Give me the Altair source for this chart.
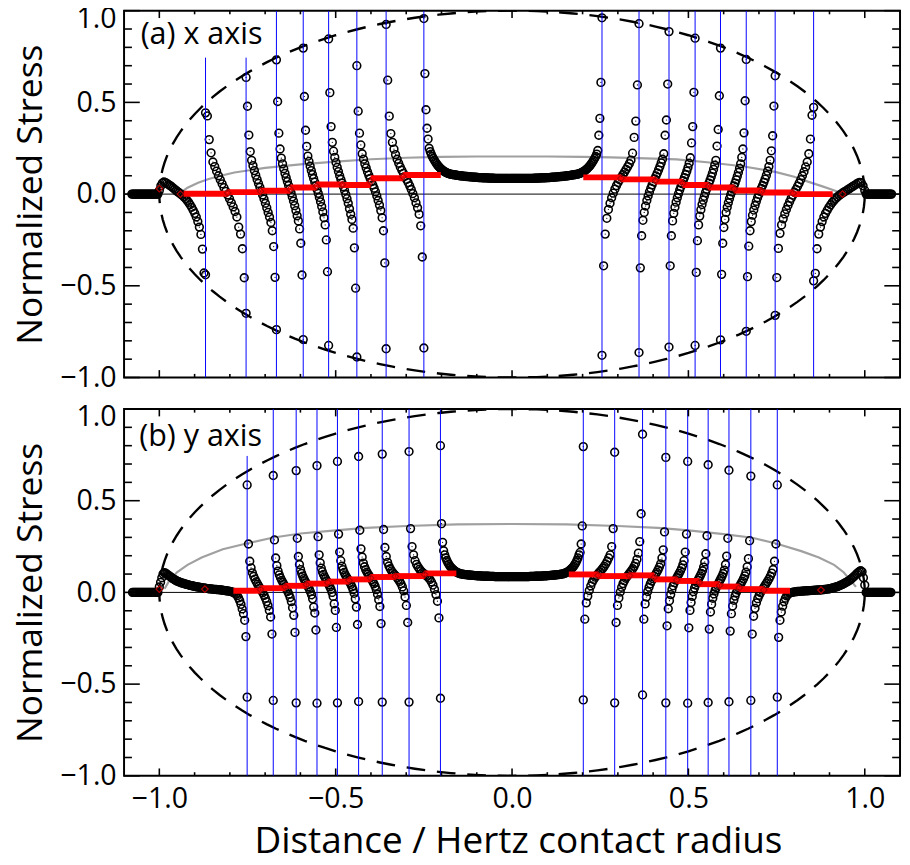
import altair as alt
import numpy as np
import pandas as pd

FONT = "Open Sans"

# ---------------- axes ----------------
X_DOMAIN = [-1.1, 1.1]
Y_DOMAIN = [-1.0, 1.0]
X_MAJOR = [-1.0, -0.5, 0.0, 0.5, 1.0]
X_MINOR = [-0.9, -0.8, -0.7, -0.6, -0.4, -0.3, -0.2, -0.1, 0.1, 0.2, 0.3, 0.4, 0.6, 0.7, 0.8, 0.9]
Y_MAJOR = [-1.0, -0.5, 0.0, 0.5, 1.0]
Y_MINOR = [-0.9, -0.8, -0.7, -0.6, -0.4, -0.3, -0.2, -0.1, 0.1, 0.2, 0.3, 0.4, 0.6, 0.7, 0.8, 0.9]
X_TITLE = "Distance / Hertz contact radius"
Y_TITLE = "Normalized Stress"

# ---------------- panel (a): x axis ----------------
A_LABEL = "(a) x axis"
A_LABEL_X = [-1.053]
A_LABEL_Y = [0.82]
A_CRACK_X = [-0.869, -0.754, -0.668, -0.592, -0.520, -0.440, -0.357, -0.250,
             0.255, 0.360, 0.445, 0.519, 0.591, 0.664, 0.746, 0.855]
A_CRACK_TOP = [0.744, 0.744, 1, 1, 1, 1, 1, 1, 1, 1, 1, 1, 1, 1, 1, 1]
A_FLAT_L_X = [-1.078, -1.004]
A_FLAT_R_X = [1.004, 1.076]
A_FLAT_Y = [0.0] * 26
A_SEG_00 = [0.02, 0.045, 0.06, 0.066, 0.063, 0.058, 0.052, 0.046, 0.04, 0.033, 0.026, 0.019, 0.012, 0.006, 0.0,
            -0.007, -0.015, -0.024, -0.034, -0.045, -0.058, -0.072, -0.088, -0.105, -0.125, -0.15, -0.18, -0.22,
            -0.30, -0.43, -0.44]
A_SEG_01 = [0.443, 0.426, 0.297, 0.225, 0.175, 0.15, 0.125, 0.10, 0.078, 0.056, 0.035, 0.015, -0.005, -0.025,
            -0.047, -0.07, -0.095, -0.125, -0.18, -0.218, -0.298, -0.456, -0.65]
A_SEG_02 = [0.636, 0.479, 0.322, 0.232, 0.184, 0.155, 0.128, 0.103, 0.08, 0.058, 0.037, 0.016, -0.005, -0.027,
            -0.05, -0.075, -0.1, -0.125, -0.155, -0.2, -0.286, -0.454, -0.739]
A_SEG_03 = [0.732, 0.505, 0.332, 0.246, 0.196, 0.165, 0.138, 0.113, 0.09, 0.068, 0.047, 0.027, 0.007, -0.015,
            -0.038, -0.063, -0.09, -0.118, -0.146, -0.19, -0.268, -0.441, -0.793]
A_SEG_04 = [0.796, 0.532, 0.348, 0.26, 0.207, 0.178, 0.152, 0.128, 0.106, 0.085, 0.065, 0.045, 0.025, 0.004,
            -0.018, -0.042, -0.068, -0.097, -0.129, -0.168, -0.25, -0.423, -0.825]
A_SEG_05 = [0.846, 0.553, 0.368, 0.282, 0.234, 0.2, 0.172, 0.146, 0.123, 0.1, 0.08, 0.06, 0.04, 0.02, -0.002,
            -0.025, -0.05, -0.08, -0.11, -0.138, -0.186, -0.293, -0.513, -0.888]
A_SEG_06 = [0.70, 0.452, 0.332, 0.268, 0.22, 0.19, 0.165, 0.143, 0.122, 0.103, 0.085, 0.068, 0.05, 0.032, 0.012,
            -0.01, -0.035, -0.06, -0.09, -0.129, -0.2, -0.375, -0.843]
A_SEG_07 = [0.925, 0.621, 0.425, 0.33, 0.282, 0.245, 0.215, 0.19, 0.168, 0.148, 0.13, 0.113, 0.097, 0.08, 0.063,
            0.045, 0.025, 0.003, -0.02, -0.048, -0.075, -0.11, -0.173, -0.343, -0.839]
A_MID_SLOPE = [0.108, 0.107, 0.106, 0.105, 0.104, 0.103, 0.102, 0.101, 0.1, 0.1, 0.099, 0.098, 0.098, 0.097,
               0.096, 0.096, 0.095, 0.095, 0.094, 0.094, 0.093, 0.093, 0.092, 0.092, 0.091, 0.091, 0.09, 0.09,
               0.09, 0.089, 0.089, 0.089, 0.088, 0.088, 0.088, 0.088, 0.087, 0.087, 0.087, 0.087, 0.087, 0.086,
               0.086, 0.086, 0.086]
A_SEG_08 = ([0.957, 0.657, 0.46, 0.359, 0.3, 0.25,
             0.232, 0.218, 0.205, 0.194, 0.184, 0.175, 0.166, 0.158, 0.151, 0.145, 0.139, 0.134, 0.129, 0.125,
             0.121, 0.118, 0.115, 0.113, 0.111, 0.109]
            + A_MID_SLOPE + [0.086] * 30 + A_MID_SLOPE[::-1]
            + [0.109, 0.111, 0.113, 0.115, 0.118, 0.121, 0.125, 0.129, 0.134, 0.139, 0.145, 0.151, 0.158, 0.166,
               0.175, 0.184, 0.194, 0.205, 0.218, 0.2375, 0.321, 0.413, 0.609, 0.961])
A_SEG_09 = [-0.879, -0.391, -0.218, -0.132, -0.084, -0.05, -0.02, 0.005, 0.027, 0.046, 0.063, 0.078, 0.092,
            0.106, 0.12, 0.135, 0.15, 0.166, 0.185, 0.223, 0.309, 0.398, 0.595, 0.929]
A_SEG_10 = [-0.864, -0.402, -0.227, -0.143, -0.1, -0.065, -0.035, -0.01, 0.012, 0.032, 0.05, 0.067, 0.083, 0.099,
            0.115, 0.132, 0.15, 0.17, 0.19, 0.22, 0.321, 0.404, 0.6, 0.886]
A_SEG_11 = [-0.834, -0.391, -0.227, -0.146, -0.105, -0.072, -0.044, -0.02, 0.002, 0.022, 0.04, 0.057, 0.073,
            0.09, 0.107, 0.125, 0.145, 0.168, 0.198, 0.279, 0.368, 0.555, 0.85]
A_SEG_12 = [-0.825, -0.427, -0.254, -0.168, -0.12, -0.085, -0.057, -0.033, -0.012, 0.008, 0.026, 0.043, 0.06,
            0.077, 0.095, 0.114, 0.135, 0.158, 0.184, 0.262, 0.352, 0.536, 0.796]
A_SEG_13 = [-0.795, -0.4375, -0.268, -0.182, -0.1375, -0.1, -0.072, -0.047, -0.025, -0.005, 0.012, 0.028, 0.044,
            0.06, 0.078, 0.097, 0.118, 0.14, 0.165, 0.2, 0.246, 0.334, 0.509, 0.734]
A_SEG_14 = [-0.748, -0.45, -0.284, -0.2, -0.15, -0.115, -0.087, -0.062, -0.04, -0.02, -0.002, 0.015, 0.031,
            0.047, 0.064, 0.082, 0.102, 0.125, 0.15, 0.184, 0.236, 0.318, 0.48, 0.645]
A_SEG_15 = [-0.661, -0.455, -0.296, -0.214, -0.168, -0.135, -0.108, -0.084, -0.062, -0.042, -0.023, -0.006, 0.01,
            0.026, 0.043, 0.06, 0.079, 0.1, 0.122, 0.148, 0.175, 0.22, 0.3, 0.43, 0.473]
A_SEG_16 = [-0.473, -0.432, -0.298, -0.218, -0.18, -0.15, -0.125, -0.105, -0.088, -0.072, -0.058, -0.045, -0.034,
            -0.024, -0.015, -0.007, 0.0, 0.006, 0.012, 0.018, 0.024, 0.03, 0.036, 0.042, 0.048, 0.054, 0.06, 0.064,
            0.062, 0.045, 0.02]
A_RED_X0 = [-0.931, -0.806, -0.713, -0.629, -0.555, -0.481, -0.401, -0.309,
            0.202, 0.309, 0.407, 0.484, 0.557, 0.63, 0.707, 0.797]
A_RED_X1 = [-0.806, -0.713, -0.629, -0.555, -0.481, -0.401, -0.309, -0.202,
            0.309, 0.407, 0.484, 0.557, 0.63, 0.707, 0.797, 0.909]
A_RED_Y = [0.002, 0.011, 0.018, 0.036, 0.052, 0.05, 0.086, 0.104,
           0.091, 0.08, 0.068, 0.05, 0.036, 0.02, 0.009, 0.0]
A_DIAM_X = [-1.0, -0.94, -0.806, -0.713, -0.629, -0.555, -0.481, -0.401, -0.309,
            0.309, 0.407, 0.484, 0.557, 0.63, 0.707, 0.797, 0.937]
A_DIAM_Y = [0.03, 0.0, 0.006, 0.015, 0.027, 0.044, 0.051, 0.068, 0.095,
            0.086, 0.074, 0.059, 0.043, 0.028, 0.015, 0.005, 0.0]
A_GRAY_X = [-0.945, -0.92, -0.89, -0.86, -0.82, -0.787, -0.7, -0.6, -0.5, -0.4, -0.3, -0.2, -0.1, 0.0, 0.1, 0.2,
            0.28, 0.38, 0.467, 0.56, 0.653, 0.746, 0.8, 0.839, 0.88, 0.91, 0.935]
A_GRAY_Y = [0.0, 0.035, 0.062, 0.082, 0.103, 0.118, 0.143, 0.162, 0.177, 0.19, 0.198, 0.203, 0.205, 0.205, 0.205,
            0.203, 0.2, 0.195, 0.189, 0.172, 0.152, 0.121, 0.095, 0.068, 0.042, 0.022, 0.005]

# ---------------- panel (b): y axis ----------------
B_LABEL = "(b) y axis"
B_LABEL_X = [-1.057]
B_LABEL_Y = [0.80]
B_CRACK_X = [-0.751, -0.677, -0.612, -0.553, -0.495, -0.435, -0.368, -0.292, -0.203,
             0.202, 0.291, 0.370, 0.436, 0.498, 0.556, 0.615, 0.677, 0.752]
B_CRACK_TOP = [0.744, 1, 1, 1, 1, 1, 1, 1, 1, 1, 1, 1, 1, 1, 1, 1, 1, 1]
B_FLAT_L_X = [-1.076, -1.004]
B_FLAT_R_X = [1.004, 1.074]
B_FLAT_Y = [0.0] * 26
B_SEG_00 = [0.03, 0.055, 0.08, 0.1, 0.108, 0.105, 0.1, 0.095, 0.09, 0.085,
            0.08, 0.075, 0.071, 0.067, 0.063, 0.06, 0.057, 0.054, 0.052, 0.05,
            0.048, 0.046, 0.044, 0.042, 0.04, 0.038, 0.037, 0.035, 0.034, 0.032,
            0.031, 0.03, 0.028, 0.027, 0.026, 0.025, 0.024, 0.023, 0.022, 0.021,
            0.02, 0.019, 0.019, 0.018, 0.017, 0.017, 0.016, 0.015, 0.015, 0.014,
            0.013, 0.012, 0.011, 0.01, 0.009, 0.008, 0.007, 0.006, 0.004, 0.002,
            0.0, -0.004, -0.01, -0.018, -0.03, -0.045, -0.065, -0.09, -0.116, -0.152, -0.241, -0.571]
B_SEG_01 = [0.586, 0.264, 0.17, 0.134, 0.107, 0.088, 0.072, 0.058, 0.045, 0.033, 0.021, 0.01, -0.002, -0.016,
            -0.032, -0.05, -0.072, -0.098, -0.134, -0.227, -0.589]
B_SEG_02 = [0.6375, 0.286, 0.1875, 0.146, 0.116, 0.096, 0.08, 0.066, 0.054, 0.042, 0.03, 0.018, 0.005, -0.01,
            -0.028, -0.05, -0.084, -0.125, -0.218, -0.602]
B_SEG_03 = [0.664, 0.295, 0.196, 0.152, 0.124, 0.104, 0.088, 0.075, 0.063, 0.052, 0.041, 0.03, 0.018, 0.004,
            -0.013, -0.035, -0.08, -0.1125, -0.205, -0.604]
B_SEG_04 = [0.691, 0.304, 0.205, 0.161, 0.132, 0.113, 0.098, 0.085, 0.074, 0.063, 0.053, 0.042, 0.03, 0.017, 0.0,
            -0.022, -0.0625, -0.098, -0.191, -0.602]
B_SEG_05 = [0.714, 0.318, 0.22, 0.173, 0.143, 0.124, 0.109, 0.096, 0.085, 0.075, 0.065, 0.055, 0.044, 0.031,
            0.015, -0.005, -0.035, -0.08, -0.175, -0.595]
B_SEG_06 = [0.741, 0.339, 0.2375, 0.193, 0.16, 0.14, 0.124, 0.111, 0.1, 0.09, 0.08, 0.07, 0.059, 0.047, 0.033,
            0.015, -0.01, -0.04, -0.077, -0.17, -0.598]
B_SEG_07 = [0.754, 0.343, 0.245, 0.196, 0.164, 0.144, 0.129, 0.117, 0.107, 0.098, 0.09, 0.081, 0.071, 0.06, 0.047,
            0.03, 0.008, -0.025, -0.071, -0.164, -0.598]
B_SEG_08 = [0.768, 0.348, 0.25, 0.205, 0.173, 0.153, 0.139, 0.127, 0.117, 0.109, 0.102, 0.095, 0.088, 0.08, 0.07,
            0.057, 0.04, 0.017, -0.012, -0.048, -0.139, -0.577]
B_MID_SLOPE = [0.1, 0.099, 0.098, 0.097, 0.097, 0.096, 0.095, 0.095, 0.094, 0.094, 0.093, 0.093, 0.092, 0.092,
               0.091, 0.091, 0.09, 0.09, 0.09, 0.089, 0.089, 0.089, 0.088, 0.088, 0.088, 0.088, 0.087, 0.087,
               0.087, 0.087, 0.087, 0.086, 0.086, 0.086, 0.086]
B_SEG_09 = ([0.8, 0.375, 0.273, 0.227,
             0.205, 0.188, 0.174, 0.162, 0.152, 0.143, 0.136, 0.13, 0.124, 0.119, 0.115, 0.111, 0.108, 0.105,
             0.103, 0.101]
            + B_MID_SLOPE + [0.086] * 25 + B_MID_SLOPE[::-1]
            + [0.101, 0.103, 0.105, 0.108, 0.111, 0.115, 0.119, 0.124, 0.13, 0.136, 0.143, 0.152, 0.162, 0.174,
               0.188, 0.205, 0.218, 0.264, 0.3625, 0.795])
B_SEG_10 = [-0.586, -0.146, -0.057, -0.02, 0.01, 0.035, 0.055, 0.07, 0.083, 0.093, 0.103, 0.112, 0.121, 0.131,
            0.142, 0.155, 0.17, 0.188, 0.205, 0.25, 0.348, 0.764]
B_SEG_11 = [-0.602, -0.164, -0.071, -0.03, 0.002, 0.028, 0.048, 0.064, 0.077, 0.088, 0.098, 0.108, 0.118, 0.129,
            0.142, 0.158, 0.18, 0.214, 0.277, 0.429, 0.8625]
B_SEG_12 = [-0.559, -0.146, -0.0625, -0.025, 0.005, 0.028, 0.047, 0.062, 0.075, 0.087, 0.098, 0.11, 0.123, 0.138,
            0.156, 0.1875, 0.232, 0.33, 0.736]
B_SEG_13 = [-0.602, -0.182, -0.089, -0.045, -0.012, 0.015, 0.036, 0.053, 0.067, 0.08, 0.092, 0.104, 0.117, 0.132,
            0.15, 0.173, 0.22, 0.318, 0.714]
B_SEG_14 = [-0.604, -0.193, -0.098, -0.055, -0.022, 0.004, 0.024, 0.04, 0.054, 0.066, 0.078, 0.09, 0.103, 0.118,
            0.138, 0.166, 0.211, 0.309, 0.696]
B_SEG_15 = [-0.6, -0.2, -0.107, -0.064, -0.032, -0.008, 0.011, 0.026, 0.039, 0.051, 0.063, 0.075, 0.088, 0.103,
            0.122, 0.152, 0.198, 0.295, 0.666]
B_SEG_16 = [-0.596, -0.211, -0.116, -0.074, -0.043, -0.02, -0.002, 0.013, 0.026, 0.038, 0.05, 0.062, 0.075, 0.09,
            0.11, 0.139, 0.184, 0.282, 0.634]
B_SEG_17 = [-0.589, -0.227, -0.13, -0.087, -0.057, -0.034, -0.016, -0.001, 0.012, 0.024, 0.036, 0.048, 0.06,
            0.073, 0.088, 0.105, 0.125, 0.17, 0.264, 0.586]
B_SEG_18 = [-0.571, -0.245, -0.152, -0.107, -0.075, -0.05, -0.032, -0.019, -0.01, -0.004,
            -0.001, 0.0, 0.002, 0.003, 0.004, 0.005, 0.006, 0.006, 0.007, 0.007,
            0.008, 0.008, 0.009, 0.009, 0.01, 0.01, 0.011, 0.011, 0.012, 0.012,
            0.013, 0.013, 0.013, 0.014, 0.015, 0.016, 0.017, 0.018, 0.019, 0.02,
            0.022, 0.024, 0.026, 0.028, 0.03, 0.033, 0.036, 0.039, 0.042, 0.046,
            0.05, 0.054, 0.058, 0.063, 0.068, 0.074, 0.08, 0.087, 0.094, 0.101,
            0.108, 0.114, 0.118, 0.112, 0.08, 0.04]
B_RED_X0 = [-0.79, -0.713, -0.643, -0.583, -0.522, -0.462, -0.401, -0.331, -0.248,
            0.161, 0.244, 0.333, 0.403, 0.467, 0.531, 0.588, 0.644, 0.714]
B_RED_X1 = [-0.713, -0.643, -0.583, -0.522, -0.462, -0.401, -0.331, -0.248, -0.158,
            0.244, 0.333, 0.403, 0.467, 0.531, 0.588, 0.644, 0.714, 0.788]
B_RED_Y = [0.009, 0.023, 0.036, 0.048, 0.059, 0.071, 0.084, 0.089, 0.104,
           0.098, 0.089, 0.093, 0.071, 0.0625, 0.045, 0.032, 0.018, 0.009]
B_DIAM_X = [-1.0, -0.871, -0.713, -0.643, -0.583, -0.522, -0.462, -0.401, -0.331, -0.248,
            0.244, 0.333, 0.403, 0.467, 0.531, 0.588, 0.644, 0.714, 0.876]
B_DIAM_Y = [0.018, 0.018, 0.016, 0.03, 0.042, 0.053, 0.065, 0.078, 0.087, 0.097,
            0.093, 0.091, 0.082, 0.067, 0.054, 0.038, 0.025, 0.013, 0.013]
B_GRAY_X = [-0.985, -0.973, -0.95, -0.92, -0.88, -0.82, -0.75, -0.68, -0.6, -0.5, -0.414, -0.3, -0.155, 0.0,
            0.155, 0.3, 0.414, 0.5, 0.6, 0.681, 0.746, 0.82, 0.87, 0.913, 0.94, 0.96, 0.975]
B_GRAY_Y = [0.02, 0.06, 0.11, 0.15, 0.19, 0.235, 0.268, 0.298, 0.321, 0.338, 0.352, 0.362, 0.371, 0.373, 0.371,
            0.362, 0.352, 0.338, 0.318, 0.298, 0.268, 0.225, 0.19, 0.15, 0.11, 0.065, 0.03]

A_SEGS = [A_SEG_00, A_SEG_01, A_SEG_02, A_SEG_03, A_SEG_04, A_SEG_05, A_SEG_06, A_SEG_07, A_SEG_08,
          A_SEG_09, A_SEG_10, A_SEG_11, A_SEG_12, A_SEG_13, A_SEG_14, A_SEG_15, A_SEG_16]
B_SEGS = [B_SEG_00, B_SEG_01, B_SEG_02, B_SEG_03, B_SEG_04, B_SEG_05, B_SEG_06, B_SEG_07, B_SEG_08, B_SEG_09,
          B_SEG_10, B_SEG_11, B_SEG_12, B_SEG_13, B_SEG_14, B_SEG_15, B_SEG_16, B_SEG_17, B_SEG_18]

W = 789
H = 373
XS = alt.Scale(domain=X_DOMAIN, nice=False, zero=False)
YS = alt.Scale(domain=Y_DOMAIN, nice=False, zero=False)


def xenc(field, show):
    if show:
        axis = alt.Axis(values=X_MAJOR, format=".1f", labelFont=FONT, labelFontSize=29, labelColor="black",
                        labelPadding=9, ticks=False, domain=False, grid=False, title=X_TITLE,
                        titleFont=FONT, titleFontSize=37.5, titleFontWeight="normal", titleColor="black",
                        titlePadding=10, titleX=W / 2 + 6, titleAlign="center")
    else:
        axis = None
    return alt.X(field, type="quantitative", scale=XS, axis=axis)


def yenc(field):
    axis = alt.Axis(values=Y_MAJOR, format=".1f", labelFont=FONT, labelFontSize=29, labelColor="black",
                    labelPadding=8, ticks=False, domain=False, grid=False, title=Y_TITLE,
                    titleFont=FONT, titleFontSize=36, titleFontWeight="normal", titleColor="black",
                    titlePadding=11, labelBaseline="middle",
                    labelOffset={"condition": {"test": "datum.value >= 0.99", "value": 8}, "value": 0})
    return alt.Y(field, type="quantitative", scale=YS, axis=axis)


def points_frame(nodes, segs, flat_l, flat_r, flat_y):
    xs, ys = [], []
    for a, b, seg in zip(nodes[:-1], nodes[1:], segs):
        xs.extend(np.linspace(a, b, len(seg)).tolist())
        ys.extend(seg)
    for lo, hi in (flat_l, flat_r):
        xs.extend(np.linspace(lo, hi, len(flat_y)).tolist())
        ys.extend(flat_y)
    return pd.DataFrame({"x": xs, "y": ys})


def panel(label, lx, ly, crack_x, crack_top, segs, flat_l, flat_r, flat_y,
          red_x0, red_x1, red_y, diam_x, diam_y, gray_x, gray_y, show_x):
    X = lambda f: xenc(f, show_x)
    nodes = [-1.0] + crack_x + [1.0]
    pts = points_frame(nodes, segs, flat_l, flat_r, flat_y)

    ellipse = alt.Chart(alt.sequence(0, 362, 2, as_="deg")).transform_calculate(
        x="cos(datum.deg * PI / 180)", y="sin(datum.deg * PI / 180)"
    ).mark_line(color="black", strokeWidth=2.4, strokeDash=[19, 12], clip=True).encode(
        x=X("x"), y=yenc("y"), order="deg:Q")

    gray = alt.Chart(pd.DataFrame({"x": gray_x, "y": gray_y})).mark_line(
        color="#a0a0a0", strokeWidth=2.2, clip=True).encode(x=X("x"), y=yenc("y"))

    zero = alt.Chart(pd.DataFrame({"y": [0.0]})).mark_rule(color="black", strokeWidth=1).encode(y=yenc("y"))

    circles = alt.Chart(pts).mark_point(shape="circle", filled=False, color="black", size=62,
                                        strokeWidth=1.6, opacity=1, clip=True).encode(x=X("x"), y=yenc("y"))
    dots = alt.Chart(pts).mark_point(shape="circle", filled=True, color="black", size=1.5,
                                     opacity=1, clip=True).encode(x=X("x"), y=yenc("y"))

    cdf = pd.DataFrame({"x": crack_x, "y": [-1.0] * len(crack_x), "y2": crack_top})
    cracks = alt.Chart(cdf).mark_rule(strokeWidth=1, color="#0000ff", clip=True).encode(
        x=X("x"), y=yenc("y"), y2="y2:Q")

    red = alt.Chart(pd.DataFrame({"x": red_x0, "x2": red_x1, "y": red_y})).mark_rule(
        color="#ff0000", strokeWidth=6, clip=True).encode(x=X("x"), x2="x2:Q", y=yenc("y"))

    diam = alt.Chart(pd.DataFrame({"x": diam_x, "y": diam_y})).mark_point(
        shape="diamond", filled=False, color="#b40000", size=45, strokeWidth=1.2, opacity=1,
        clip=True).encode(x=X("x"), y=yenc("y"))

    txt = alt.Chart(pd.DataFrame({"x": lx, "y": ly, "t": [label]})).mark_text(
        align="left", baseline="alphabetic", font=FONT, fontSize=31, color="black").encode(
        x=X("x"), y=yenc("y"), text="t:N")

    ymaj = pd.DataFrame({"y": Y_MAJOR})
    ymin = pd.DataFrame({"y": Y_MINOR})
    xmaj = pd.DataFrame({"x": X_MAJOR})
    xmin = pd.DataFrame({"x": X_MINOR})
    tk = dict(color="black", strokeWidth=1.6)
    ticks = [
        alt.Chart(ymaj).mark_rule(**tk).encode(y=yenc("y"), x=alt.value(0), x2=alt.value(16)),
        alt.Chart(ymaj).mark_rule(**tk).encode(y=yenc("y"), x=alt.value(W), x2=alt.value(W - 16)),
        alt.Chart(ymin).mark_rule(**tk).encode(y=yenc("y"), x=alt.value(0), x2=alt.value(8)),
        alt.Chart(ymin).mark_rule(**tk).encode(y=yenc("y"), x=alt.value(W), x2=alt.value(W - 8)),
        alt.Chart(xmaj).mark_rule(**tk).encode(x=X("x"), y=alt.value(H), y2=alt.value(H - 7.5)),
        alt.Chart(xmaj).mark_rule(**tk).encode(x=X("x"), y=alt.value(0), y2=alt.value(7.5)),
        alt.Chart(xmin).mark_rule(**tk).encode(x=X("x"), y=alt.value(H), y2=alt.value(H - 3.7)),
        alt.Chart(xmin).mark_rule(**tk).encode(x=X("x"), y=alt.value(0), y2=alt.value(3.7)),
    ]
    return alt.layer(ellipse, gray, zero, circles, dots, cracks, red, diam, txt, *ticks).properties(
        width=W, height=H)


top = panel(A_LABEL, A_LABEL_X, A_LABEL_Y, A_CRACK_X, A_CRACK_TOP, A_SEGS,
            A_FLAT_L_X, A_FLAT_R_X, A_FLAT_Y, A_RED_X0, A_RED_X1, A_RED_Y, A_DIAM_X, A_DIAM_Y,
            A_GRAY_X, A_GRAY_Y, show_x=False)
bottom = panel(B_LABEL, B_LABEL_X, B_LABEL_Y, B_CRACK_X, B_CRACK_TOP, B_SEGS,
               B_FLAT_L_X, B_FLAT_R_X, B_FLAT_Y, B_RED_X0, B_RED_X1, B_RED_Y, B_DIAM_X, B_DIAM_Y,
               B_GRAY_X, B_GRAY_Y, show_x=True)

chart = alt.vconcat(top, bottom, spacing=32, bounds="flush").properties(
    padding={"left": 3, "top": -11.5, "right": 0, "bottom": 0}
).configure_view(stroke="black", strokeWidth=2)

chart.save("out.html", embed_options={"renderer": "svg", "actions": False})
